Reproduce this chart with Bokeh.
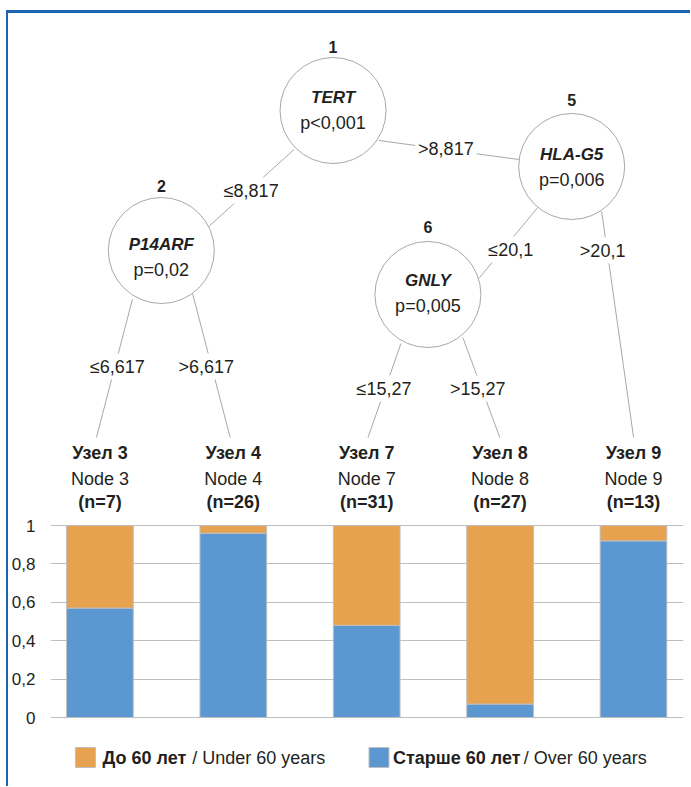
from bokeh.plotting import figure
from bokeh.layouts import column, row
from bokeh.models import (Range1d, FixedTicker, CustomJSTickFormatter, ColumnDataSource,
                          Div, Spacer)
from bokeh.core.properties import value
from bokeh.embed import file_html
from bokeh.resources import INLINE

# ---------------- data ----------------
node_ru = ["Узел 3", "Узел 4", "Узел 7", "Узел 8", "Узел 9"]
node_en = ["Node 3", "Node 4", "Node 7", "Node 8", "Node 9"]
node_n = ["(n=7)", "(n=26)", "(n=31)", "(n=27)", "(n=13)"]
over_60 = [0.57, 0.96, 0.48, 0.07, 0.92]
under_60 = [0.43, 0.04, 0.52, 0.93, 0.08]
y_ticks = [0, 0.2, 0.4, 0.6, 0.8, 1.0]
y_tick_labels = ["0", "0,2", "0,4", "0,6", "0,8", "1"]
split_ids = ["1", "2", "5", "6"]
split_genes = ["TERT", "P14ARF", "HLA-G5", "GNLY"]
split_p = ["p<0,001", "p=0,02", "p=0,006", "p=0,005"]
edge_labels = ["≤8,817", ">8,817", "≤6,617", ">6,617", "≤20,1", ">20,1", "≤15,27", ">15,27"]
legend_ru = ["До 60 лет", "Старше 60 лет"]
legend_en = ["/ Under 60 years", "/ Over 60 years"]

# ---------------- style ----------------
FONT = "Liberation Sans"
TXT = "#231F20"
ORANGE = "#E6A24F"
BLUE = "#5B98D2"
GRID = "#BFBFBF"
EDGE = "#A8A8A8"
FRAME_BLUE = "#1C64B2"

# layout helpers: image pixels -> data units (bar spacing / proportion scale)
X0, XS = 98.5, 133.6
Y0, YS = 717.0, 192.0
def dx(ix):
    return (ix - X0) / XS
def dy(iy):
    return (Y0 - iy) / YS

# main figure placed at image (8, 13)
W, H = 682, 773
p = figure(width=W, height=H, toolbar_location=None, output_backend="svg",
           x_range=Range1d(dx(49), dx(683)), y_range=Range1d(dy(13 + H), dy(13)),
           x_axis_type=None, min_border_left=41, min_border_right=W - 675,
           min_border_top=0, min_border_bottom=0, outline_line_color=None)
p.xgrid.visible = False
p.yaxis.ticker = FixedTicker(ticks=y_ticks)
p.ygrid.ticker = FixedTicker(ticks=y_ticks)
p.ygrid.grid_line_color = GRID
p.ygrid.grid_line_width = 1
p.yaxis.formatter = CustomJSTickFormatter(
    args=dict(tvals=y_ticks, tlabs=y_tick_labels),
    code="const i = tvals.findIndex(t => Math.abs(t - tick) < 1e-9); return i >= 0 ? tlabs[i] : '';")
p.yaxis.axis_line_color = None
p.yaxis.major_tick_line_color = None
p.yaxis.minor_tick_line_color = None
p.yaxis.major_label_text_font = FONT
p.yaxis.major_label_text_font_size = "17px"
p.yaxis.major_label_text_color = TXT
p.yaxis.major_label_standoff = 9

# ---------------- bars ----------------
src = ColumnDataSource(dict(x=list(range(len(node_ru))), over=over_60, under=under_60,
                            ru=node_ru, en=node_en, n=node_n))
p.vbar_stack(["over", "under"], x="x", width=0.5, source=src,
             fill_color=[BLUE, ORANGE], line_color=GRID, line_width=1)

# leaf labels
for col, yy, style in (("ru", 452, "bold"), ("en", 478, "normal"), ("n", 501, "bold")):
    p.text(x="x", y=dy(yy), text=col, source=src, text_font=value(FONT),
           text_font_size="18px", text_font_style=style, text_color=TXT,
           text_align="center", text_baseline="middle")

# ---------------- tree ----------------
edges_px = [((293, 149), (203, 230)), ((378, 140), (518, 159)),
            ((131, 299), (95, 437)), ((191, 292), (229, 437)),
            ((537, 207), (478, 278)), ((601, 211), (633, 437)),
            ((400, 343), (367, 437)), ((462, 337), (499, 437))]
p.segment(x0=[dx(a[0]) for a, b in edges_px], y0=[dy(a[1]) for a, b in edges_px],
          x1=[dx(b[0]) for a, b in edges_px], y1=[dy(b[1]) for a, b in edges_px],
          line_color=EDGE, line_width=1)

edge_lab_px = [(250, 190), (445, 148), (116, 366), (205, 366),
               (510, 249), (602, 250), (383, 388), (477, 388)]
p.text(x=[dx(a) for a, b in edge_lab_px], y=[dy(b) for a, b in edge_lab_px],
       text=edge_labels, text_font=value(FONT), text_font_size="18px", text_color=TXT,
       text_align="center", text_baseline="middle",
       background_fill_color="white", padding=3)

node_px = [(332, 110), (160, 250), (571, 166), (427, 294)]
p.scatter(x=[dx(a) for a, b in node_px], y=[dy(b) for a, b in node_px], size=106,
          marker="circle", fill_color="white", line_color=EDGE, line_width=1)

id_y = [46, 185, 99, 226]
gene_y = [97, 244, 154, 280]
p_y = [122, 269, 179, 305]
xs = [dx(a) for a, b in node_px]
p.text(x=xs, y=[dy(v) for v in id_y], text=split_ids, text_font=value(FONT),
       text_font_size="16px", text_font_style="bold", text_color=TXT,
       text_align="center", text_baseline="middle")
p.text(x=xs, y=[dy(v) for v in gene_y], text=split_genes, text_font=value(FONT),
       text_font_size="17px", text_font_style="bold italic", text_color=TXT,
       text_align="center", text_baseline="middle")
p.text(x=xs, y=[dy(v) for v in p_y], text=split_p, text_font=value(FONT),
       text_font_size="18px", text_color=TXT, text_align="center", text_baseline="middle")

# ---------------- legend ----------------
leg_y = dy(757)
p.scatter(x=[dx(84), dx(378)], y=[leg_y, leg_y], size=20, marker="square",
          fill_color=[ORANGE, BLUE], line_color=GRID, line_width=1)
p.text(x=[dx(101), dx(392)], y=[leg_y, leg_y], text=legend_ru, text_font=value(FONT),
       text_font_size="18px", text_font_style="bold", text_color=TXT,
       text_align="left", text_baseline="middle")
p.text(x=[dx(191), dx(523)], y=[leg_y, leg_y], text=legend_en, text_font=value(FONT),
       text_font_size="18px", text_color=TXT, text_align="left", text_baseline="middle")

# ---------------- blue frame (top / left) ----------------
top_bar = Div(text="", width=2 + W, height=3, margin=0,
              styles={"background-color": FRAME_BLUE})
left_bar = Div(text="", width=2, height=H, margin=0,
               styles={"background-color": FRAME_BLUE})
inner = column(top_bar, row(left_bar, p, spacing=0), spacing=0)
layout = column(Spacer(width=2 + W + 6, height=10, margin=0),
                row(Spacer(width=6, height=3 + H, margin=0), inner, spacing=0),
                spacing=0)

open("out.html", "w").write(file_html(layout, INLINE))
